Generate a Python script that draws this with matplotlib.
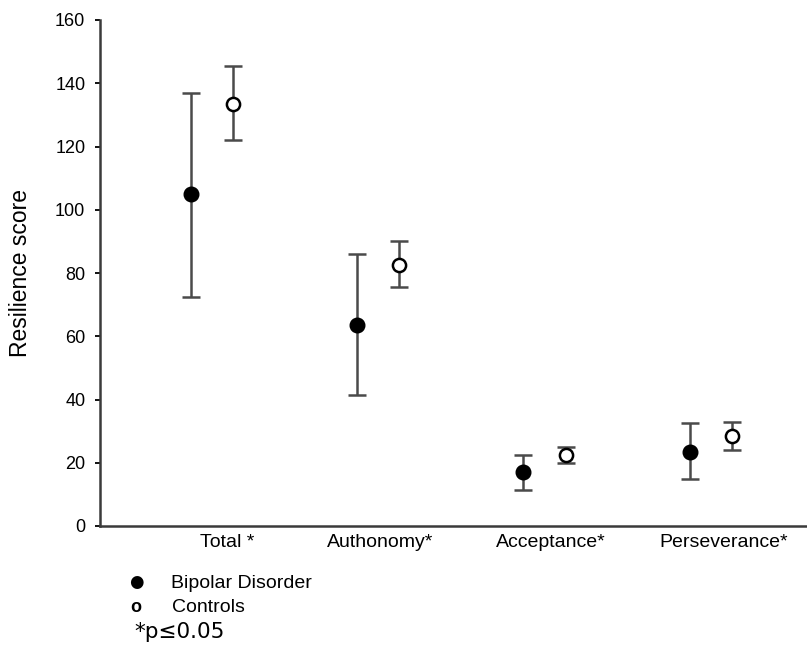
import numpy as np
import matplotlib.pyplot as plt

plt.rcParams['font.family'] = ['Liberation Sans', 'DejaVu Sans']

# values
categories = ['Total *', 'Authonomy*', 'Acceptance*', 'Perseverance*']
bd_mean = [105, 63.5, 17, 23.5]
bd_low = [72.5, 41.5, 11.5, 15]
bd_high = [137, 86, 22.5, 32.5]
ctrl_mean = [133.5, 82.5, 22.5, 28.5]
ctrl_low = [122, 75.5, 20, 24]
ctrl_high = [145.5, 90, 25, 33]

x = np.arange(1, len(categories) + 1)
off = 0.127
label_shift = np.array([0.09, 0.01, 0.04, 0.08])

fig = plt.figure(figsize=(8.07, 6.51), dpi=100)
ax = fig.add_axes([100 / 807, 1 - 526 / 651, 707 / 807, 506 / 651])

bd_err = [np.array(bd_mean) - np.array(bd_low), np.array(bd_high) - np.array(bd_mean)]
ctrl_err = [np.array(ctrl_mean) - np.array(ctrl_low), np.array(ctrl_high) - np.array(ctrl_mean)]

ax.errorbar(x - off, bd_mean, yerr=bd_err, fmt='o', color='black', ecolor='#4a4a4a',
            elinewidth=1.8, capsize=6.5, capthick=1.8, markersize=10.5, zorder=3)
ax.errorbar(x + off, ctrl_mean, yerr=ctrl_err, fmt='o', color='black', mfc='white',
            mec='black', mew=1.8, ecolor='#4a4a4a', elinewidth=1.8, capsize=6.5,
            capthick=1.8, markersize=9.5, zorder=3)

ax.set_xlim(0.325, 4.58)
ax.set_ylim(0, 160)
ax.set_yticks(np.arange(0, 161, 20))
ax.set_xticks(x + label_shift)
ax.set_xticklabels(categories, fontsize=14)
ax.tick_params(axis='x', length=0, pad=6)
ax.tick_params(axis='y', labelsize=13, length=3.6, width=1.3, direction='out', pad=7)
ax.set_ylabel('Resilience score', fontsize=16.5)
ax.yaxis.set_label_coords(-68 / 707, 0.5)

for s in ['top', 'right']:
    ax.spines[s].set_visible(False)
for s in ['left', 'bottom']:
    ax.spines[s].set_linewidth(1.8)
    ax.spines[s].set_color('#3a3a3a')

# legend drawn below the axis
fig.text(136 / 807, 1 - 582 / 651, '\u25cf', fontsize=12, ha='center', va='center',
         family=['DejaVu Sans'])
fig.text(171 / 807, 1 - 583 / 651, 'Bipolar Disorder', fontsize=14, va='center')
fig.text(136 / 807, 1 - 607 / 651, 'o', fontsize=13, ha='center', va='center',
         weight='bold')
fig.text(172 / 807, 1 - 607 / 651, 'Controls', fontsize=14, va='center')
fig.text(134 / 807, 1 - 632 / 651, '*p\u22640.05', fontsize=15.5, va='center',
         family=['DejaVu Sans'])

fig.savefig('out.png', dpi=100)
